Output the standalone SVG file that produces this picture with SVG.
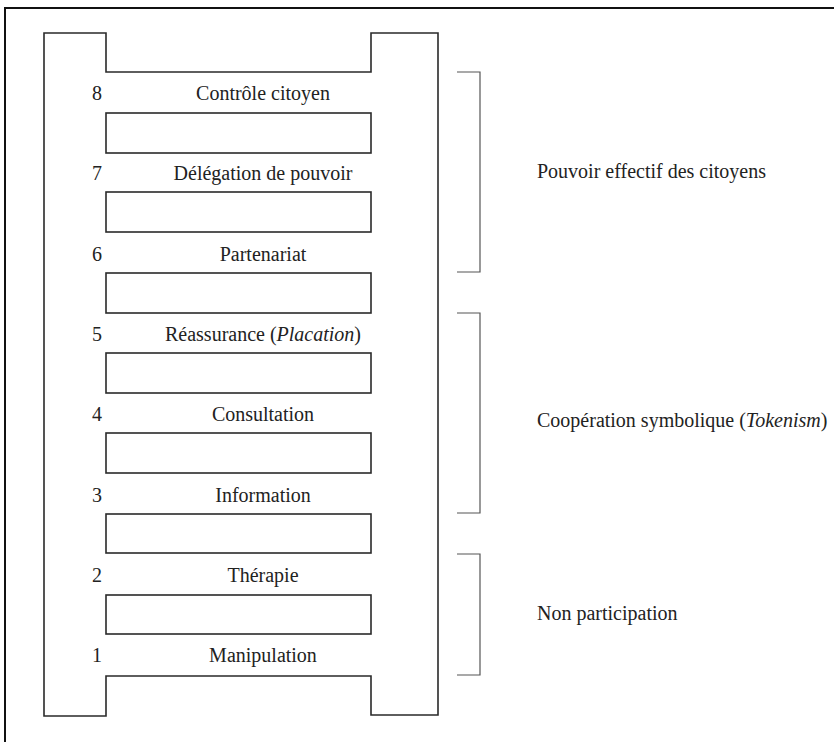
<svg xmlns="http://www.w3.org/2000/svg" width="834" height="742" viewBox="0 0 834 742">
<style>
.frame{fill:none;stroke:#111;stroke-width:2}
.rail{fill:none;stroke:#2a2a2a;stroke-width:1.6}
.rung{fill:#fff;stroke:#2a2a2a;stroke-width:1.6}
.br{fill:none;stroke:#555;stroke-width:1.2}
.t{font-family:'Liberation Serif','DejaVu Serif',serif;font-size:20px;fill:#222}
.c{text-anchor:middle}
.i{font-style:italic}
</style>
<rect width="834" height="742" fill="#fff"/>
<path class="frame" d="M5,742 V8 H834"/>
<g id="ladder">
<path class="rail" d="M44,33 H106 V72 H371 V33 H438 V715 H371 V676 H106 V716 H44 Z"/>
<rect class="rung" x="106" y="113" width="265" height="40"/>
<rect class="rung" x="106" y="192" width="265" height="40"/>
<rect class="rung" x="106" y="273" width="265" height="40"/>
<rect class="rung" x="106" y="353" width="265" height="40"/>
<rect class="rung" x="106" y="433" width="265" height="40"/>
<rect class="rung" x="106" y="514" width="265" height="39"/>
<rect class="rung" x="106" y="595" width="265" height="39"/>
</g>
<g id="step8"><text class="t c" x="97" y="100">8</text><text class="t c" x="263" y="100">Contrôle citoyen</text></g>
<g id="step7"><text class="t c" x="97" y="180">7</text><text class="t c" x="263" y="180">Délégation de pouvoir</text></g>
<g id="step6"><text class="t c" x="97" y="261">6</text><text class="t c" x="263" y="261">Partenariat</text></g>
<g id="step5"><text class="t c" x="97" y="341">5</text><text class="t c" x="263" y="341">Réassurance (<tspan class="i">Placation</tspan>)</text></g>
<g id="step4"><text class="t c" x="97" y="421">4</text><text class="t c" x="263" y="421">Consultation</text></g>
<g id="step3"><text class="t c" x="97" y="502">3</text><text class="t c" x="263" y="502">Information</text></g>
<g id="step2"><text class="t c" x="97" y="582">2</text><text class="t c" x="263" y="582">Thérapie</text></g>
<g id="step1"><text class="t c" x="97" y="662">1</text><text class="t c" x="263" y="662">Manipulation</text></g>
<g id="connectors">
<g id="group-power"><path class="br" d="M457,72 H480 V272 H457"/><text class="t" x="537" y="178">Pouvoir effectif des citoyens</text></g>
<g id="group-tokenism"><path class="br" d="M457,313 H480 V513 H457"/><text class="t" x="537" y="427">Coopération symbolique (<tspan class="i">Tokenism</tspan>)</text></g>
<g id="group-nonpart"><path class="br" d="M457,554 H480 V675 H457"/><text class="t" x="537" y="620">Non participation</text></g>
</g>
</svg>
